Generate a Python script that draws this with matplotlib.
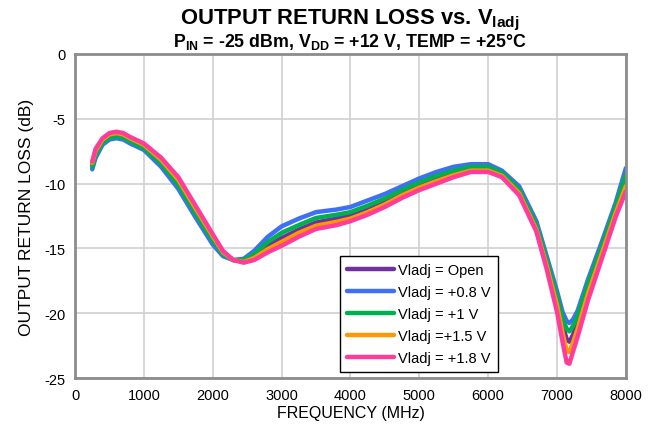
import matplotlib
matplotlib.use("Agg")
import matplotlib.pyplot as plt

plt.rcParams['font.family'] = ['Liberation Sans', 'DejaVu Sans']
plt.rcParams['mathtext.fontset'] = 'custom'
plt.rcParams['mathtext.rm'] = 'Liberation Sans'
plt.rcParams['mathtext.bf'] = 'Liberation Sans:bold'
plt.rcParams['axes.unicode_minus'] = False

# frequency grid (MHz)
freq = [250, 300, 400, 500, 600, 700, 800, 1000, 1250, 1500, 1750, 2000, 2150, 2300, 2450,
        2600, 2800, 3000, 3250, 3500, 3800, 4000, 4250, 4500, 4750, 5000, 5250, 5500, 5750,
        6000, 6200, 6450, 6700, 6850, 7000, 7080, 7140, 7180, 7230, 7300, 7450, 7650, 7850, 8000]

# output return loss (dB)
rl_open = [-8.55, -7.6, -6.7, -6.3, -6.2, -6.3, -6.6, -7.1, -8.3, -9.85, -12.05, -14.2, -15.35, -15.9, -16.0,
           -15.6, -14.8, -14.2, -13.55, -13.0, -12.7, -12.45, -11.95, -11.4, -10.75, -10.15, -9.65, -9.2, -8.85,
           -8.85, -9.3, -10.6, -13.4, -16.1, -19.0, -20.9, -22.0, -22.2, -21.7, -20.7, -18.1, -15.1, -12.05, -9.8]
rl_08 = [-8.9, -8.0, -7.0, -6.6, -6.5, -6.6, -6.9, -7.4, -8.7, -10.4, -12.6, -14.7, -15.6, -15.9, -15.8,
         -15.2, -14.1, -13.3, -12.7, -12.2, -12.0, -11.8, -11.3, -10.8, -10.2, -9.6, -9.1, -8.7, -8.5,
         -8.5, -9.0, -10.2, -12.9, -15.6, -18.3, -19.9, -20.6, -20.75, -20.5, -19.8, -17.4, -14.5, -11.5, -8.8]
rl_1 = [-8.7, -7.75, -6.85, -6.45, -6.35, -6.45, -6.75, -7.25, -8.45, -10.1, -12.3, -14.4, -15.45, -15.9, -15.9,
        -15.45, -14.5, -13.8, -13.2, -12.65, -12.4, -12.2, -11.7, -11.15, -10.5, -9.9, -9.4, -9.0, -8.7,
        -8.7, -9.15, -10.45, -13.2, -15.9, -18.7, -20.4, -21.2, -21.4, -21.0, -20.2, -17.75, -14.85, -11.8, -9.3]
rl_15 = [-8.4, -7.45, -6.6, -6.2, -6.1, -6.2, -6.5, -7.0, -8.15, -9.7, -11.9, -14.05, -15.3, -15.9, -16.05,
         -15.75, -15.05, -14.5, -13.8, -13.25, -12.95, -12.7, -12.2, -11.6, -10.9, -10.3, -9.8, -9.35, -9.0,
         -9.0, -9.4, -10.75, -13.55, -16.35, -19.4, -21.5, -22.9, -23.0, -22.3, -21.2, -18.5, -15.4, -12.3, -10.2]
rl_18 = [-8.3, -7.3, -6.5, -6.1, -6.0, -6.1, -6.4, -6.9, -8.0, -9.5, -11.7, -13.9, -15.2, -15.9, -16.1,
         -15.9, -15.3, -14.8, -14.1, -13.5, -13.2, -12.9, -12.4, -11.8, -11.1, -10.5, -10.0, -9.5, -9.1,
         -9.1, -9.5, -10.9, -13.7, -16.6, -19.9, -22.2, -23.8, -23.9, -23.0, -21.8, -19.0, -15.8, -12.6, -10.6]

labels = ['Vladj = Open', 'Vladj = +0.8 V', 'Vladj = +1 V', 'Vladj =+1.5 V', 'Vladj = +1.8 V']
colors = ['#7030A0', '#3F6FF5', '#00B050', '#FF9900', '#FF3C9A']
series = [rl_open, rl_08, rl_1, rl_15, rl_18]

fig = plt.figure(figsize=(6.54, 4.31), dpi=100)
ax = fig.add_axes([0.1147, 0.1206, 0.8423, 0.7518])

for y, c, lab in zip(series, colors, labels):
    ax.plot(freq, y, color=c, lw=3.2, label=lab, solid_joinstyle='round', solid_capstyle='round')

ax.set_xlim(0, 8000)
ax.set_ylim(-25, 0)
ax.set_xticks(range(0, 8001, 1000))
ax.set_yticks(range(-25, 1, 5))
ax.grid(True, color='#D0D0D0', lw=1.2)
ax.set_axisbelow(True)
ax.tick_params(length=0, labelsize=10.5, pad=7)
for s in ax.spines.values():
    s.set_color('#8C8C8C')
    s.set_linewidth(2)

ax.set_xlabel('FREQUENCY (MHz)', fontsize=11.5, labelpad=2)
ax.set_ylabel('OUTPUT RETURN LOSS (dB)', fontsize=12.5, labelpad=7)

fig.text(0.535, 0.952, r'OUTPUT RETURN LOSS vs. V$_{\mathbf{ladj}}$', ha='center', va='center',
         fontsize=15.8, fontweight='bold')
fig.text(0.535, 0.903, r'P$_{\mathbf{IN}}$ = -25 dBm, V$_{\mathbf{DD}}$ = +12 V, TEMP = +25°C',
         ha='center', va='center', fontsize=12.8, fontweight='bold')

leg = ax.legend(loc='lower left', bbox_to_anchor=(0.481, 0.018), borderaxespad=0,
                fancybox=False, edgecolor='black', framealpha=1, fontsize=10.5,
                handlelength=3.2, labelspacing=0.55, handletextpad=0.3, borderpad=0.5)
leg.get_frame().set_linewidth(1.0)

fig.savefig('out.png', dpi=100)
